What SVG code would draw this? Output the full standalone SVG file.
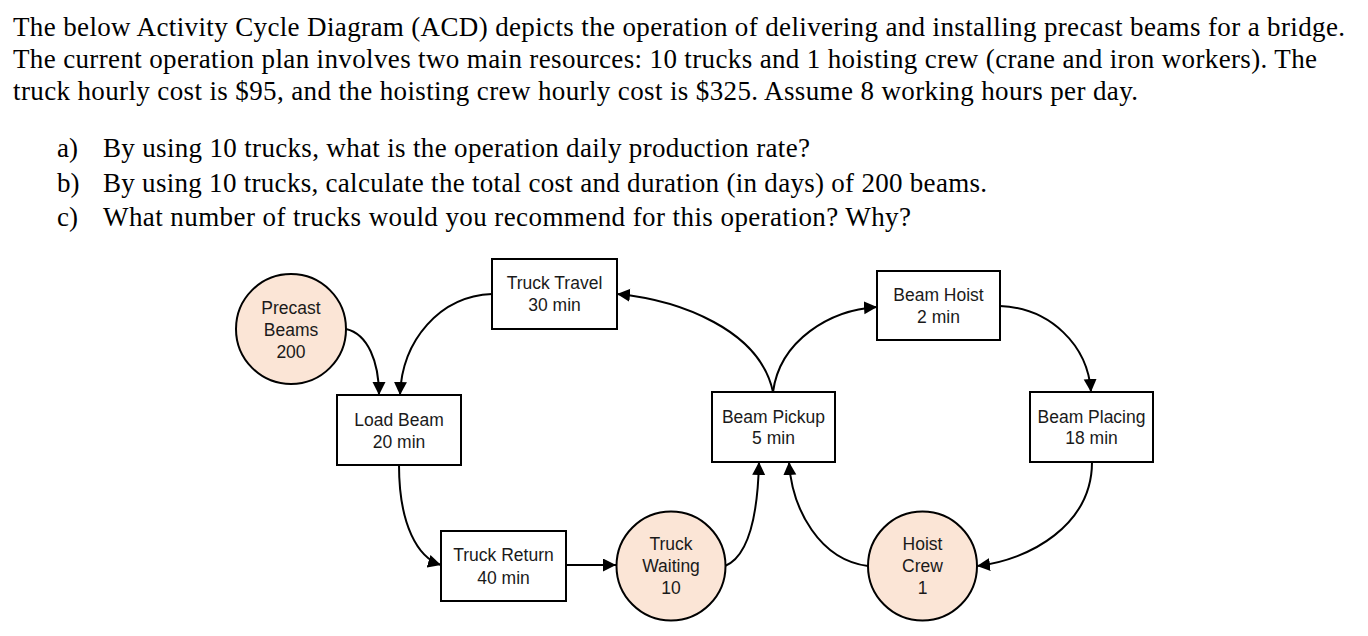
<svg xmlns="http://www.w3.org/2000/svg" width="1368" height="636" viewBox="0 0 1368 636">
<style>
.q{font-family:"Liberation Serif","Times New Roman",serif;font-size:27px;fill:#000}
.box{fill:#fff;stroke:#000;stroke-width:2}
.res{fill:#FBE5D6;stroke:#000;stroke-width:2}
.lbl{font-family:"Liberation Sans",Arial,sans-serif;font-size:17.5px;fill:#1a1a1a;text-anchor:middle}
.con{fill:none;stroke:#000;stroke-width:2;marker-end:url(#ah)}
</style>
<defs>
<marker id="ah" markerUnits="userSpaceOnUse" markerWidth="14" markerHeight="14" refX="13" refY="6.5" orient="auto">
<path d="M0,0 L13,6.5 L0,13 z" fill="#000"/>
</marker>
</defs>
<rect width="1368" height="636" fill="#fff"/>
<g id="question">
<text class="q" x="13" y="36" textLength="1332" lengthAdjust="spacing">The below Activity Cycle Diagram (ACD) depicts the operation of delivering and installing precast beams for a bridge.</text>
<text class="q" x="13" y="68" textLength="1304" lengthAdjust="spacing">The current operation plan involves two main resources: 10 trucks and 1 hoisting crew (crane and iron workers). The</text>
<text class="q" x="13" y="100" textLength="1125" lengthAdjust="spacing">truck hourly cost is $95, and the hoisting crew hourly cost is $325. Assume 8 working hours per day.</text>
<text class="q" x="57" y="157">a)</text>
<text class="q" x="103" y="157" textLength="707" lengthAdjust="spacing">By using 10 trucks, what is the operation daily production rate?</text>
<text class="q" x="57" y="192">b)</text>
<text class="q" x="103" y="192" textLength="884" lengthAdjust="spacing">By using 10 trucks, calculate the total cost and duration (in days) of 200 beams.</text>
<text class="q" x="57" y="226">c)</text>
<text class="q" x="103" y="226" textLength="808" lengthAdjust="spacing">What number of trucks would you recommend for this operation? Why?</text>
</g>
<g id="connectors">
<path class="con" d="M346,329 C368,334 379,362 379,395"/>
<path class="con" d="M492,294 C440,296 402,340 400,395"/>
<path class="con" d="M399,465 C399,525 418,558 441,565"/>
<path class="con" d="M566,565 L616,565"/>
<path class="con" d="M725,566 C752,555 758,505 759,462"/>
<path class="con" d="M868,566 C820,560 792,510 789,462"/>
<path class="con" d="M1092,462 C1092,525 1030,560 977,566"/>
<path class="con" d="M773,392 C760,330 680,300 617,294"/>
<path class="con" d="M773,392 C780,340 830,310 877,307"/>
<path class="con" d="M1000,306 C1050,308 1088,345 1091,392"/>
</g>
<g id="precast-beams">
<circle class="res" cx="291" cy="329" r="55"/>
<text class="lbl" x="291" y="314">Precast</text>
<text class="lbl" x="291" y="336">Beams</text>
<text class="lbl" x="291" y="358">200</text>
</g>
<g id="truck-travel">
<rect class="box" x="492" y="259" width="125" height="70"/>
<text class="lbl" x="554.5" y="289">Truck Travel</text>
<text class="lbl" x="554.5" y="311">30 min</text>
</g>
<g id="load-beam">
<rect class="box" x="337" y="395" width="124" height="70"/>
<text class="lbl" x="399" y="426">Load Beam</text>
<text class="lbl" x="399" y="448">20 min</text>
</g>
<g id="beam-hoist">
<rect class="box" x="877" y="271" width="123" height="69"/>
<text class="lbl" x="938.5" y="301">Beam Hoist</text>
<text class="lbl" x="938.5" y="323">2 min</text>
</g>
<g id="beam-pickup">
<rect class="box" x="712" y="392" width="123" height="70"/>
<text class="lbl" x="773.5" y="423">Beam Pickup</text>
<text class="lbl" x="773.5" y="444">5 min</text>
</g>
<g id="beam-placing">
<rect class="box" x="1030" y="392" width="123" height="70"/>
<text class="lbl" x="1091.5" y="423">Beam Placing</text>
<text class="lbl" x="1091.5" y="444">18 min</text>
</g>
<g id="truck-return">
<rect class="box" x="441" y="531" width="125" height="70"/>
<text class="lbl" x="503.5" y="561">Truck Return</text>
<text class="lbl" x="503.5" y="584">40 min</text>
</g>
<g id="truck-waiting">
<circle class="res" cx="671" cy="566" r="54.5"/>
<text class="lbl" x="671" y="550">Truck</text>
<text class="lbl" x="671" y="572">Waiting</text>
<text class="lbl" x="671" y="594">10</text>
</g>
<g id="hoist-crew">
<circle class="res" cx="922.5" cy="566" r="54.5"/>
<text class="lbl" x="922.5" y="550">Hoist</text>
<text class="lbl" x="922.5" y="572">Crew</text>
<text class="lbl" x="922.5" y="594">1</text>
</g>
</svg>
